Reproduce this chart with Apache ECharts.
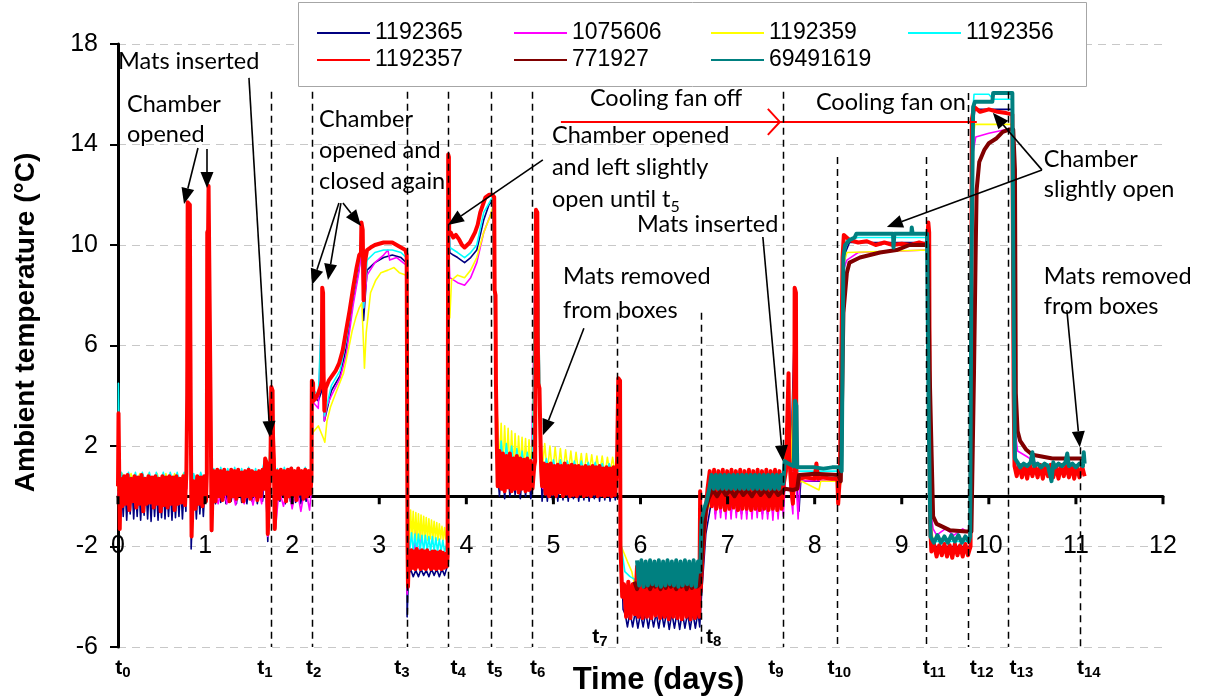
<!DOCTYPE html>
<html><head><meta charset="utf-8">
<script src="https://cdn.jsdelivr.net/npm/echarts@6/dist/echarts.min.js"></script>
<style>html,body{margin:0;padding:0;background:#fff}#c{width:1207px;height:698px}</style>
</head><body><div id="c"></div>
<script>
// ---------- DATA (time in days, temperature in °C) ----------
const seriesNames = ['1192365','1075606','1192359','1192356','1192357','771927','69491619'];

const d1192365 = [[0,0.2],[0.005,3.0],[0.02,-1.0],[0.04,0.5],[0.06,-0.8],[0.08,0.5],[0.10,-0.95],[0.12,0.4],[0.14,-0.7],[0.16,0.5],[0.18,-0.9],[0.20,0.45],[0.22,-0.8],[0.24,0.5],[0.26,-0.95],[0.28,0.4],[0.30,-0.75],[0.32,0.5],[0.34,-0.9],[0.36,0.45],[0.38,-1.0],[0.40,0.5],[0.42,-0.8],[0.44,0.4],[0.46,-0.95],[0.48,0.5],[0.50,-0.85],[0.52,0.45],[0.54,-0.9],[0.56,0.5],[0.58,-0.8],[0.60,0.4],[0.62,-0.95],[0.64,0.5],[0.66,-0.85],[0.68,0.45],[0.70,-0.8],[0.72,0.5],[0.74,-0.9],[0.76,0.4],[0.78,-0.6],[0.80,11.0],[0.825,11.0],[0.84,-2.1],[0.86,-0.3],[0.88,0.5],[0.90,-0.9],[0.92,0.5],[0.94,-0.7],[0.96,0.45],[0.98,-0.8],[1.00,0.4],[1.02,0.6],[1.04,11.8],[1.06,11.8],[1.075,-1.4],[1.09,0.3],[1.12,-0.3],[1.15,0.7],[1.18,-0.25],[1.21,0.7],[1.24,-0.3],[1.27,0.6],[1.30,-0.2],[1.33,0.7],[1.36,-0.3],[1.39,0.65],[1.42,-0.25],[1.45,0.7],[1.48,-0.3],[1.51,0.6],[1.54,-0.2],[1.57,0.7],[1.60,-0.3],[1.63,0.65],[1.66,-0.2],[1.69,1.2],[1.72,-1.8],[1.76,4.0],[1.78,2.0],[1.80,-1.0],[1.83,0.6],[1.86,-0.2],[1.89,0.7],[1.92,-0.3],[1.95,0.6],[1.98,-0.2],[2.01,0.7],[2.04,-0.25],[2.07,0.65],[2.10,-0.3],[2.13,0.6],[2.16,-0.2],[2.19,0.6],[2.22,0.5],
[2.226,4.0],[2.30,3.8],[2.34,4.2],[2.345,7.5],[2.355,7.4],[2.37,3.0],[2.45,4.2],[2.55,4.8],[2.62,5.9],[2.70,7.8],[2.77,9.1],[2.795,10.0],[2.81,9.8],[2.82,7.0],[2.86,9.0],[2.95,9.3],[3.05,9.5],[3.15,9.6],[3.25,9.5],[3.31,9.3],
[3.32,-4.8],[3.335,-3.2],[3.36,-2.9],[3.39,-3.2],[3.42,-2.95],[3.45,-3.2],[3.48,-2.9],[3.51,-3.15],[3.54,-2.95],[3.57,-3.2],[3.60,-2.9],[3.63,-3.15],[3.66,-2.9],[3.69,-3.2],[3.72,-2.9],[3.75,-3.15],[3.78,-2.8],
[3.795,12.0],[3.81,9.7],[3.85,9.6],[3.90,9.5],[3.98,9.3],[4.05,9.5],[4.12,9.8],[4.20,11.0],[4.26,11.6],[4.31,11.8],[4.34,4.0],[4.36,1.0],
[4.38,0.0],[4.41,1.5],[4.44,-0.1],[4.47,1.4],[4.50,0.0],[4.53,1.3],[4.56,0.05],[4.59,1.3],[4.62,-0.1],[4.65,1.2],[4.68,0.0],[4.71,1.2],[4.74,-0.1],[4.78,1.0],[4.80,10.5],[4.82,10.0],[4.85,2.0],[4.87,-0.2],[4.90,1.0],[4.93,-0.2],[4.96,1.0],[4.99,-0.15],[5.02,1.0],[5.05,-0.2],[5.08,0.9],[5.11,-0.15],[5.14,1.0],[5.17,-0.2],[5.20,0.9],[5.23,-0.1],[5.26,1.0],[5.29,-0.2],[5.32,0.9],[5.35,-0.15],[5.38,0.9],[5.41,-0.2],[5.44,0.9],[5.47,-0.1],[5.50,0.9],[5.53,-0.2],[5.56,0.85],[5.59,-0.15],[5.62,0.9],[5.65,-0.2],[5.68,0.85],[5.71,-0.15],[5.73,0.8],[5.75,4.0],[5.77,-1.0],[5.80,-4.5],
[5.825,-4.7],[5.85,-5.2],[5.88,-4.6],[5.91,-5.2],[5.94,-4.6],[5.97,-5.25],[6.00,-4.65],[6.03,-5.2],[6.06,-4.6],[6.09,-5.25],[6.12,-4.6],[6.15,-5.2],[6.18,-4.65],[6.21,-5.25],[6.24,-4.6],[6.27,-5.2],[6.30,-4.6],[6.33,-5.3],[6.36,-4.65],[6.39,-5.25],[6.42,-4.6],[6.45,-5.3],[6.48,-4.6],[6.51,-5.25],[6.54,-4.65],[6.57,-5.3],[6.60,-4.6],[6.63,-5.25],[6.66,-4.6],[6.68,-5.2],[6.70,-4.0],[6.75,-1.5],[6.80,-0.5],
[6.83,0.6],[6.86,-0.7],[6.89,0.6],[6.92,-0.65],[6.95,0.6],[6.98,-0.7],[7.01,0.6],[7.04,-0.7],[7.07,0.55],[7.10,-0.65],[7.13,0.6],[7.16,-0.7],[7.19,0.6],[7.22,-0.7],[7.25,0.55],[7.28,-0.7],[7.31,0.6],[7.34,-0.65],[7.37,0.6],[7.40,-0.7],[7.43,0.6],[7.46,-0.7],[7.49,0.55],[7.52,-0.7],[7.55,0.6],[7.58,-0.7],[7.61,0.6],[7.64,-0.4],[7.70,3.8],[7.72,0.6],[7.77,7.0],[7.79,0.6],[7.82,-0.6],[7.84,0.6],[8.27,0.6],[8.30,0.7],[8.33,9.5],[8.40,10.1],[9.30,10.1],[9.33,-1.5],[9.36,-2.0],[9.79,-2.0],[9.81,14.5],[9.84,15.4],[10.27,15.4],[10.29,3.0],[10.31,1.0],[11.10,1.0]];

const d1075606 = [[0,0.2],[0.02,-0.8],[0.05,0.4],[0.1,-0.3],[0.15,0.45],[0.2,-0.35],[0.25,0.4],[0.3,-0.3],[0.35,0.45],[0.4,-0.35],[0.45,0.4],[0.5,-0.3],[0.55,0.45],[0.6,-0.35],[0.65,0.4],[0.7,-0.3],[0.75,0.45],[0.79,0.3],[0.80,11.3],[0.825,11.3],[0.845,-1.3],[0.87,0.3],[0.92,-0.3],[0.97,0.4],[1.02,0.5],[1.04,12.0],[1.06,12.0],[1.075,-1.3],[1.1,0.4],[1.15,-0.3],[1.2,0.5],[1.25,-0.3],[1.3,0.45],[1.35,-0.35],[1.4,0.5],[1.45,-0.3],[1.5,0.45],[1.55,-0.35],[1.6,0.5],[1.65,-0.3],[1.69,1.3],[1.72,-1.6],[1.76,4.0],[1.78,2.0],[1.81,-1.25],[1.85,0.3],[1.9,-0.4],[1.95,0.5],[2.0,-0.5],[2.05,0.4],[2.1,-0.6],[2.15,0.4],[2.2,-0.55],[2.222,0.3],
[2.226,4.0],[2.25,3.7],[2.30,3.5],[2.345,7.8],[2.355,7.6],[2.37,3.0],[2.40,3.6],[2.45,4.0],[2.55,4.7],[2.62,5.6],[2.70,7.6],[2.77,9.0],[2.795,9.8],[2.82,7.5],[2.86,8.8],[2.95,9.3],[3.05,9.6],[3.10,9.8],[3.12,9.4],[3.2,9.5],[3.31,9.2],
[3.32,-3.9],[3.34,-2.5],[3.40,-2.5],[3.41,-1.35],[3.42,-2.4],[3.46,-2.5],[3.465,-1.35],[3.47,-2.5],[3.6,-2.5],[3.78,-2.5],
[3.795,10.0],[3.81,8.7],[3.9,8.5],[3.98,8.4],[4.05,8.7],[4.12,9.3],[4.2,10.5],[4.31,11.5],[4.34,3.5],[4.36,1.6],
[4.40,0.4],[4.45,1.7],[4.50,0.4],[4.55,1.6],[4.60,0.4],[4.65,1.5],[4.70,0.35],[4.75,1.4],[4.80,11.0],[4.82,10.5],[4.85,2.0],[4.88,0.3],[4.95,1.2],[5.0,0.3],[5.1,1.2],[5.2,0.3],[5.3,1.1],[5.4,0.3],[5.5,1.1],[5.6,0.3],[5.73,1.0],[5.75,4.0],[5.78,-2.2],[5.80,-4.0],
[5.85,-4.5],[5.9,-4.0],[6.0,-4.5],[6.1,-4.0],[6.2,-4.5],[6.3,-4.0],[6.4,-4.5],[6.5,-4.0],[6.6,-4.5],[6.68,-4.2],[6.72,-2.0],[6.77,-0.6],[6.80,0.0],
[6.83,0.5],[6.86,-0.9],[6.89,0.5],[6.92,-0.85],[6.95,0.5],[6.98,-0.9],[7.01,0.5],[7.04,-0.9],[7.07,0.5],[7.10,-0.85],[7.13,0.5],[7.16,-0.9],[7.19,0.5],[7.22,-0.9],[7.25,0.5],[7.28,-0.9],[7.31,0.5],[7.34,-0.85],[7.37,0.5],[7.40,-0.9],[7.43,0.5],[7.46,-0.9],[7.49,0.5],[7.52,-0.95],[7.55,0.5],[7.58,-0.9],[7.61,0.5],[7.64,-0.8],[7.66,0.5],[7.70,3.5],[7.72,0.3],[7.75,-0.7],[7.77,6.5],[7.79,0.4],[7.81,-0.9],[7.83,0.6],[8.27,0.65],[8.30,0.7],[8.33,9.0],[8.37,9.4],[8.5,9.7],[9.3,9.8],[9.33,-0.5],[9.36,-1.3],[9.4,-1.55],[9.5,-1.3],[9.6,-1.55],[9.7,-1.3],[9.79,-1.5],[9.81,13.5],[9.85,14.3],[10.0,14.45],[10.2,14.6],[10.27,14.6],[10.29,3.0],[10.33,1.8],[10.45,1.55],[10.6,1.2],[11.1,1.2]];

const d1192359 = [[0,0.4],[0.02,-0.5],[0.05,0.9],[0.1,0.3],[0.15,0.9],[0.2,0.3],[0.25,0.9],[0.3,0.3],[0.35,0.9],[0.4,0.3],[0.45,0.9],[0.5,0.3],[0.55,0.9],[0.6,0.3],[0.65,0.9],[0.7,0.3],[0.75,0.9],[0.79,0.5],[0.80,11.0],[0.825,11.0],[0.845,-1.0],[0.87,0.6],[0.95,0.3],[1.02,0.8],[1.04,11.8],[1.06,11.8],[1.075,-1.0],[1.1,0.9],[1.2,0.3],[1.3,0.9],[1.4,0.3],[1.5,0.9],[1.6,0.3],[1.69,1.2],[1.72,-1.2],[1.76,4.0],[1.80,-0.9],[1.85,0.9],[1.95,0.3],[2.05,0.9],[2.15,0.3],[2.22,0.6],
[2.226,2.5],[2.30,2.8],[2.36,2.3],[2.375,2.15],[2.40,3.0],[2.44,3.55],[2.50,4.1],[2.59,4.9],[2.65,5.9],[2.69,6.6],[2.73,7.1],[2.77,7.5],[2.80,7.7],[2.82,6.0],[2.83,5.1],[2.85,6.5],[2.90,8.1],[2.96,8.6],[3.02,8.9],[3.10,9.0],[3.17,9.1],[3.23,8.9],[3.31,8.8],
[3.32,-3.0],[3.33,-0.5],[3.345,-1.7],[3.36,-0.55],[3.375,-1.7],[3.39,-0.6],[3.405,-1.7],[3.42,-0.65],[3.435,-1.75],[3.45,-0.7],[3.465,-1.7],[3.48,-0.75],[3.495,-1.75],[3.51,-0.8],[3.525,-1.7],[3.54,-0.85],[3.555,-1.75],[3.57,-0.9],[3.585,-1.7],[3.60,-0.95],[3.615,-1.75],[3.63,-1.0],[3.645,-1.7],[3.66,-1.05],[3.675,-1.75],[3.69,-1.1],[3.705,-1.7],[3.72,-1.2],[3.735,-1.75],[3.75,-1.25],[3.765,-1.7],[3.78,-1.35],
[3.795,8.0],[3.81,7.1],[3.83,8.6],[3.9,8.8],[3.98,8.7],[4.05,9.0],[4.12,9.5],[4.20,10.5],[4.28,11.2],[4.31,11.6],[4.34,4.0],[4.36,3.0],
[4.38,1.2],[4.40,2.9],[4.42,1.1],[4.44,2.8],[4.46,1.2],[4.48,2.7],[4.50,1.0],[4.52,2.6],[4.54,1.1],[4.56,2.5],[4.58,1.0],[4.60,2.4],[4.62,1.1],[4.64,2.35],[4.66,1.0],[4.68,2.3],[4.70,1.0],[4.72,2.25],[4.74,1.0],[4.76,2.2],[4.80,10.8],[4.82,10.3],[4.85,2.2],
[4.87,1.0],[4.90,2.1],[4.93,0.9],[4.96,2.0],[4.99,0.9],[5.02,1.95],[5.05,0.9],[5.08,1.9],[5.11,0.85],[5.14,1.85],[5.17,0.9],[5.20,1.8],[5.23,0.85],[5.26,1.75],[5.29,0.9],[5.32,1.7],[5.35,0.85],[5.38,1.7],[5.41,0.9],[5.44,1.65],[5.47,0.85],[5.50,1.6],[5.53,0.9],[5.56,1.6],[5.59,0.85],[5.62,1.55],[5.65,0.9],[5.68,1.55],[5.71,0.9],[5.73,1.5],[5.75,3.5],[5.78,-2.0],[5.85,-2.6],[5.90,-3.0],[5.93,-3.5],
[6.0,-4.2],[6.05,-3.5],[6.1,-4.2],[6.15,-3.5],[6.2,-4.2],[6.25,-3.5],[6.3,-4.2],[6.35,-3.5],[6.4,-4.2],[6.45,-3.5],[6.5,-4.2],[6.55,-3.5],[6.6,-4.2],[6.68,-3.8],[6.72,-1.8],[6.77,-0.5],[6.80,-0.3],
[6.83,0.7],[6.88,-0.5],[6.93,0.7],[6.98,-0.5],[7.03,0.7],[7.08,-0.5],[7.13,0.7],[7.18,-0.5],[7.23,0.7],[7.28,-0.5],[7.33,0.7],[7.38,-0.5],[7.43,0.7],[7.48,-0.5],[7.53,0.7],[7.58,-0.5],[7.63,0.5],[7.70,3.0],[7.72,0.5],[7.77,5.5],[7.79,0.5],[7.85,0.6],[8.05,0.25],[8.07,0.6],[8.27,0.6],[8.30,0.5],[8.33,9.2],[8.37,9.7],[9.3,9.8],[9.33,-1.0],[9.36,-1.75],[9.40,-1.7],[9.79,-1.7],[9.81,14.0],[9.84,14.8],[10.27,14.8],[10.29,3.0],[10.32,1.3],[11.1,1.2]];

const d1192356 = [[0,0.5],[0.005,4.5],[0.015,2.0],[0.025,-0.6],[0.04,0.95],[0.08,0.4],[0.12,0.95],[0.16,0.45],[0.20,0.95],[0.24,0.4],[0.28,0.95],[0.32,0.45],[0.36,0.95],[0.40,0.4],[0.44,0.95],[0.48,0.45],[0.52,0.95],[0.56,0.4],[0.60,0.95],[0.64,0.45],[0.68,0.95],[0.72,0.4],[0.76,0.95],[0.79,0.6],[0.80,11.5],[0.825,11.5],[0.845,-1.0],[0.87,0.9],[0.91,0.4],[0.95,0.95],[0.99,0.5],[1.02,1.0],[1.04,12.2],[1.06,12.2],[1.075,-1.0],[1.10,1.1],[1.14,0.5],[1.18,1.15],[1.22,0.5],[1.26,1.1],[1.30,0.5],[1.34,1.15],[1.38,0.5],[1.42,1.1],[1.46,0.5],[1.50,1.15],[1.54,0.5],[1.58,1.1],[1.62,0.5],[1.66,1.1],[1.69,1.5],[1.72,-1.2],[1.76,4.2],[1.80,-1.0],[1.83,1.1],[1.87,0.5],[1.91,1.15],[1.95,0.5],[1.99,1.15],[2.03,0.5],[2.07,1.1],[2.11,0.5],[2.15,1.15],[2.19,0.5],[2.222,1.0],
[2.226,4.3],[2.30,4.0],[2.345,8.0],[2.355,7.8],[2.37,3.2],[2.45,4.4],[2.55,5.0],[2.62,6.2],[2.70,8.0],[2.77,9.4],[2.795,10.5],[2.82,7.5],[2.86,9.4],[2.95,9.7],[3.05,9.8],[3.15,9.8],[3.25,9.7],[3.31,9.5],
[3.32,-3.5],[3.33,-1.5],[3.35,-2.2],[3.37,-1.45],[3.39,-2.2],[3.41,-1.5],[3.43,-2.2],[3.45,-1.5],[3.47,-2.2],[3.49,-1.55],[3.51,-2.2],[3.53,-1.55],[3.55,-2.2],[3.57,-1.6],[3.59,-2.2],[3.61,-1.6],[3.63,-2.2],[3.65,-1.65],[3.67,-2.2],[3.69,-1.7],[3.71,-2.2],[3.73,-1.75],[3.75,-2.2],[3.78,-1.85],
[3.795,11.0],[3.81,9.9],[3.9,9.7],[3.98,9.5],[4.05,9.7],[4.12,10.0],[4.20,11.3],[4.30,11.9],[4.34,4.2],[4.36,2.2],
[4.38,1.0],[4.40,2.2],[4.43,1.0],[4.46,2.1],[4.49,1.0],[4.52,2.0],[4.55,0.9],[4.58,1.9],[4.61,1.0],[4.64,1.8],[4.67,0.9],[4.70,1.75],[4.73,1.0],[4.76,1.7],[4.80,11.2],[4.82,10.8],[4.85,2.0],[4.88,0.8],[4.92,1.5],[4.96,0.8],[5.0,1.45],[5.04,0.8],[5.08,1.45],[5.12,0.8],[5.16,1.4],[5.20,0.8],[5.24,1.4],[5.28,0.8],[5.32,1.4],[5.36,0.8],[5.40,1.35],[5.44,0.8],[5.48,1.35],[5.52,0.8],[5.56,1.3],[5.60,0.8],[5.64,1.3],[5.68,0.8],[5.72,1.3],[5.75,4.0],[5.78,-2.0],[5.82,-3.0],[5.88,-3.2],[5.93,-3.3],[6.0,-3.8],[6.1,-3.3],[6.2,-3.8],[6.3,-3.3],[6.4,-3.8],[6.5,-3.3],[6.6,-3.8],[6.68,-3.5],[6.72,-1.5],[6.77,-0.3],[6.80,0.2],
[6.85,0.8],[6.9,0.0],[6.95,0.8],[7.0,0.0],[7.05,0.8],[7.1,0.0],[7.15,0.8],[7.2,0.0],[7.25,0.8],[7.3,0.0],[7.35,0.8],[7.4,0.0],[7.45,0.8],[7.5,0.0],[7.55,0.8],[7.6,0.0],[7.64,0.8],[7.66,1.3],[7.8,1.0],[8.27,1.0],[8.30,1.0],[8.33,9.8],[8.37,10.2],[8.5,10.3],[9.3,10.3],[9.33,-1.2],[9.36,-1.8],[9.79,-1.8],[9.81,15.0],[9.83,16.0],[10.0,16.0],[10.05,15.8],[10.27,15.8],[10.29,3.0],[10.32,1.3],[11.1,1.25]];

const d1192357 = [[0.00,0.4],[0.006,3.3],[0.012,1.5],[0.02,-1.3],[0.03,0.7],[0.05,-0.4],[0.07,0.8],[0.09,-0.3],[0.11,0.85],[0.13,-0.55],[0.15,0.7],[0.17,-0.2],[0.19,0.8],[0.21,-0.45],[0.23,0.75],[0.25,-0.3],[0.27,0.85],[0.29,-0.6],[0.31,0.7],[0.33,-0.3],[0.35,0.8],[0.37,-0.25],[0.39,0.75],[0.41,-0.45],[0.43,0.8],[0.45,-0.3],[0.47,0.7],[0.49,-0.6],[0.51,0.8],[0.53,-0.35],[0.55,0.75],[0.57,-0.45],[0.59,0.8],[0.61,-0.3],[0.63,0.75],[0.65,-0.55],[0.67,0.8],[0.69,-0.3],[0.71,0.7],[0.73,-0.25],[0.75,0.8],[0.77,-0.35],[0.785,0.9],
[0.795,4.0],[0.80,11.7],[0.825,11.6],[0.83,7.0],[0.835,3.5],[0.845,-1.6],[0.855,-0.3],[0.87,0.6],[0.89,-0.5],[0.91,0.8],[0.93,-0.3],[0.95,0.75],[0.97,-0.4],[0.99,0.8],[1.01,-0.2],[1.02,0.9],
[1.025,10.5],[1.035,10.6],[1.04,12.35],[1.06,12.3],[1.065,3.0],[1.075,-1.35],[1.085,0.2],[1.10,1.0],[1.12,-0.2],[1.14,1.05],[1.16,0.0],[1.18,1.0],[1.20,-0.15],[1.22,1.05],[1.24,0.1],[1.26,0.95],[1.28,-0.2],[1.30,1.05],[1.32,0.0],[1.34,1.0],[1.36,-0.1],[1.38,1.05],[1.40,0.05],[1.42,0.95],[1.44,-0.2],[1.46,1.0],[1.48,0.0],[1.50,1.05],[1.52,-0.1],[1.54,1.0],[1.56,0.05],[1.58,0.95],[1.60,-0.15],[1.62,1.0],[1.64,0.0],[1.66,1.05],[1.68,0.3],[1.69,1.5],[1.71,1.3],[1.72,-1.5],[1.735,0.2],[1.75,1.0],[1.76,4.35],[1.775,4.2],[1.78,2.4],[1.79,1.5],[1.80,-1.3],[1.815,0.4],[1.83,1.0],[1.85,-0.1],[1.87,1.05],[1.89,0.1],[1.91,1.0],[1.93,-0.2],[1.95,1.05],[1.97,0.0],[1.99,1.1],[2.01,0.05],[2.03,1.0],[2.05,-0.15],[2.07,1.1],[2.09,0.1],[2.11,1.0],[2.13,-0.1],[2.15,1.05],[2.17,0.0],[2.19,1.0],[2.21,0.1],[2.222,0.8],
[2.226,4.6],[2.24,4.5],[2.245,3.8],[2.27,3.9],[2.30,4.1],[2.33,4.4],[2.34,4.6],[2.345,8.3],[2.355,8.1],[2.36,5.0],[2.37,3.4],[2.385,4.3],[2.42,4.6],[2.46,4.8],[2.50,5.0],[2.54,5.3],[2.58,5.8],[2.62,6.6],[2.66,7.4],[2.70,8.3],[2.74,9.1],[2.77,9.6],[2.79,9.7],[2.795,10.9],[2.81,10.6],[2.82,7.8],[2.835,9.3],[2.86,9.8],[2.90,9.9],[2.95,10.0],[3.00,10.05],[3.05,10.1],[3.10,10.1],[3.15,10.1],[3.20,10.0],[3.25,9.9],[3.30,9.8],[3.315,9.6],
[3.325,-2.0],[3.33,-3.6],[3.34,-2.3],[3.355,-2.9],[3.37,-2.15],[3.385,-2.85],[3.40,-2.2],[3.415,-2.9],[3.43,-2.1],[3.445,-2.8],[3.46,-2.2],[3.475,-2.9],[3.49,-2.15],[3.505,-2.85],[3.52,-2.2],[3.535,-2.9],[3.55,-2.15],[3.565,-2.8],[3.58,-2.25],[3.595,-2.9],[3.61,-2.2],[3.625,-2.85],[3.64,-2.2],[3.655,-2.9],[3.67,-2.25],[3.685,-2.85],[3.70,-2.2],[3.715,-2.9],[3.73,-2.25],[3.745,-2.85],[3.76,-2.3],[3.775,-2.8],[3.785,-2.4],
[3.792,13.6],[3.80,13.5],[3.803,10.4],[3.82,10.5],[3.85,10.3],[3.88,10.4],[3.92,10.2],[3.95,10.0],[3.98,9.9],[4.01,10.0],[4.04,10.1],[4.07,10.3],[4.10,10.5],[4.13,10.8],[4.16,11.3],[4.19,11.6],[4.22,11.9],[4.26,12.0],[4.30,12.0],[4.32,11.9],[4.325,8.2],[4.335,8.0],[4.34,4.5],[4.35,2.1],
[4.36,0.4],[4.38,1.8],[4.40,0.3],[4.42,1.7],[4.44,0.2],[4.46,1.6],[4.48,0.35],[4.50,1.7],[4.52,0.2],[4.54,1.5],[4.56,0.3],[4.58,1.6],[4.60,0.15],[4.62,1.5],[4.64,0.3],[4.66,1.45],[4.68,0.2],[4.70,1.5],[4.72,0.25],[4.74,1.4],[4.76,0.3],[4.78,1.2],[4.79,1.4],
[4.80,11.4],[4.815,11.3],[4.82,6.5],[4.825,4.5],[4.84,4.3],[4.85,2.5],[4.86,1.0],[4.87,0.4],
[4.89,1.3],[4.91,0.1],[4.93,1.25],[4.95,0.0],[4.97,1.3],[4.99,0.1],[5.01,1.2],[5.03,0.0],[5.05,1.25],[5.07,0.15],[5.09,1.2],[5.11,0.0],[5.13,1.3],[5.15,0.1],[5.17,1.2],[5.19,0.0],[5.21,1.25],[5.23,0.05],[5.25,1.2],[5.27,0.0],[5.29,1.2],[5.31,0.1],[5.33,1.15],[5.35,0.0],[5.37,1.2],[5.39,0.05],[5.41,1.15],[5.43,0.0],[5.45,1.2],[5.47,0.1],[5.49,1.15],[5.51,0.0],[5.53,1.2],[5.55,0.05],[5.57,1.1],[5.59,0.0],[5.61,1.15],[5.63,0.05],[5.65,1.1],[5.67,0.0],[5.69,1.15],[5.71,0.05],[5.73,1.2],
[5.745,4.7],[5.765,4.6],[5.77,-2.0],[5.79,-4.0],
[5.81,-3.5],[5.835,-4.8],[5.86,-3.4],[5.885,-4.85],[5.91,-3.5],[5.935,-4.7],[5.96,-2.8],[5.975,-4.8],[6.0,-3.5],[6.025,-4.85],[6.05,-3.45],[6.075,-4.8],[6.10,-3.5],[6.125,-4.85],[6.15,-3.45],[6.175,-4.75],[6.20,-3.5],[6.225,-4.85],[6.25,-3.45],[6.275,-4.8],[6.30,-3.5],[6.325,-4.9],[6.35,-3.45],[6.375,-4.8],[6.40,-3.5],[6.425,-4.85],[6.45,-3.5],[6.475,-4.9],[6.50,-3.45],[6.525,-4.8],[6.55,-3.5],[6.575,-4.9],[6.60,-3.5],[6.625,-4.85],[6.65,-3.45],[6.675,-4.8],[6.685,0.2],[6.69,-3.8],
[6.71,-2.5],[6.73,-1.5],[6.75,-0.5],[6.77,0.3],
[6.795,1.0],[6.82,-0.4],[6.845,1.05],[6.87,-0.5],[6.895,1.0],[6.92,-0.45],[6.945,1.05],[6.97,-0.55],[6.995,1.0],[7.02,-0.5],[7.045,1.05],[7.07,-0.45],[7.095,1.0],[7.12,-0.55],[7.145,1.05],[7.17,-0.5],[7.195,1.0],[7.22,-0.5],[7.245,1.05],[7.27,-0.55],[7.295,1.0],[7.32,-0.5],[7.345,1.05],[7.37,-0.55],[7.395,1.0],[7.42,-0.5],[7.445,1.05],[7.47,-0.55],[7.495,1.0],[7.52,-0.5],[7.545,1.05],[7.57,-0.55],[7.595,1.0],[7.62,-0.5],[7.645,0.5],
[7.67,1.0],[7.69,1.0],[7.70,4.9],[7.71,1.5],[7.73,0.4],[7.75,-0.3],[7.765,1.0],[7.77,8.3],[7.785,8.1],[7.79,1.0],[7.80,0.3],[7.82,0.7],[7.9,0.75],[8.0,0.7],[8.02,1.3],[8.04,0.7],[8.1,0.75],[8.2,0.7],[8.26,0.7],[8.27,-0.3],[8.29,0.8],[8.32,9.5],[8.335,10.4],
[8.40,10.2],[8.5,10.1],[8.6,10.15],[8.7,10.0],[8.8,10.1],[8.9,10.0],[9.0,10.05],[9.1,10.0],[9.2,10.1],[9.29,10.0],[9.305,10.9],[9.315,10.5],[9.325,-1.0],[9.34,-2.2],
[9.37,-1.9],[9.40,-2.4],[9.43,-1.95],[9.46,-2.35],[9.49,-1.9],[9.52,-2.4],[9.55,-1.95],[9.58,-2.45],[9.61,-1.9],[9.64,-2.35],[9.67,-1.95],[9.70,-2.4],[9.73,-1.9],[9.76,-2.35],[9.79,-2.0],
[9.805,15.0],[9.83,15.5],[9.9,15.3],[10.0,15.4],[10.1,15.3],[10.2,15.25],[10.27,15.2],[10.285,4.0],[10.295,1.2],
[10.32,0.8],[10.35,1.25],[10.38,0.75],[10.41,1.2],[10.44,0.7],[10.47,1.25],[10.50,0.8],[10.53,1.2],[10.56,0.75],[10.59,1.25],[10.62,0.7],[10.65,1.2],[10.68,0.8],[10.71,1.25],[10.74,0.75],[10.77,1.2],[10.80,0.7],[10.83,1.25],[10.86,0.8],[10.89,1.2],[10.92,0.75],[10.95,1.25],[10.98,0.7],[11.01,1.2],[11.04,0.75],[11.07,1.2],[11.10,0.8]];

const d771927 = [[5.93,-3.4],[5.96,-3.7],[5.99,-3.4],[6.02,-3.3],[6.05,-3.6],[6.08,-3.4],[6.11,-3.7],[6.14,-3.45],[6.17,-3.6],[6.20,-3.4],[6.23,-3.7],[6.26,-3.4],[6.29,-3.65],[6.32,-3.35],[6.35,-3.6],[6.38,-3.4],[6.41,-3.7],[6.44,-3.45],[6.47,-3.6],[6.50,-3.3],[6.53,-3.7],[6.56,-3.4],[6.59,-3.65],[6.62,-3.45],[6.65,-3.6],[6.68,-3.5],[6.70,-2.6],[6.72,-1.5],[6.75,-0.6],[6.78,-0.1],
[6.83,0.25],[6.88,0.0],[6.93,0.3],[6.98,0.05],[7.03,0.25],[7.08,0.0],[7.13,0.3],[7.18,0.05],[7.23,0.25],[7.28,0.0],[7.33,0.3],[7.38,0.05],[7.43,0.25],[7.48,0.0],[7.53,0.3],[7.58,0.05],[7.63,0.2],[7.66,0.3],[7.75,0.25],[7.8,0.3],[7.82,0.85],[8.0,0.9],[8.27,0.85],[8.30,0.6],[8.33,7.3],[8.37,8.9],[8.40,9.3],[8.52,9.5],[8.75,9.7],[8.94,9.8],[9.09,10.0],[9.30,10.0],[9.32,5.0],[9.36,-0.8],[9.40,-1.1],[9.55,-1.35],[9.74,-1.4],[9.80,-1.4],[9.83,5],[9.85,10],[9.86,12.2],[9.89,13.3],[9.95,13.8],[10.0,14.05],[10.09,14.25],[10.16,14.5],[10.24,14.6],[10.28,14.6],[10.30,13],[10.31,4.1],[10.33,2.6],[10.36,2.2],[10.43,1.85],[10.5,1.65],[10.73,1.5],[11.10,1.5]];

const d69491619 = [[5.96,-2.55],[5.985,-3.55],[6.01,-2.55],[6.035,-3.6],[6.06,-2.6],[6.085,-3.55],[6.11,-2.55],[6.135,-3.5],[6.16,-2.6],[6.185,-3.55],[6.21,-2.55],[6.235,-3.6],[6.26,-2.6],[6.285,-3.55],[6.31,-2.55],[6.335,-3.5],[6.36,-2.6],[6.385,-3.55],[6.41,-2.55],[6.435,-3.6],[6.46,-2.6],[6.485,-3.55],[6.51,-2.55],[6.535,-3.5],[6.56,-2.6],[6.585,-3.55],[6.61,-2.55],[6.635,-3.6],[6.66,-2.6],[6.685,-3.0],[6.70,-1.0],[6.73,-0.5],[6.76,-0.2],[6.79,0.3],
[6.815,0.85],[6.84,0.3],[6.865,0.85],[6.89,0.3],[6.915,0.85],[6.94,0.3],[6.965,0.85],[6.99,0.3],[7.015,0.85],[7.04,0.3],[7.065,0.85],[7.09,0.3],[7.115,0.85],[7.14,0.3],[7.165,0.85],[7.19,0.3],[7.215,0.85],[7.24,0.3],[7.265,0.85],[7.29,0.3],[7.315,0.85],[7.34,0.3],[7.365,0.85],[7.39,0.3],[7.415,0.85],[7.44,0.3],[7.465,0.85],[7.49,0.3],[7.515,0.85],[7.54,0.3],[7.565,0.85],[7.59,0.3],[7.615,0.85],[7.64,0.5],
[7.655,1.4],[7.70,1.3],[7.76,1.2],[7.775,3.8],[7.79,3.6],[7.80,1.15],[8.0,1.15],[8.1,1.1],[8.2,1.15],[8.29,1.15],[8.31,1.0],[8.33,9.5],[8.35,10.0],[8.40,10.2],[8.46,10.3],[8.48,10.45],[8.9,10.45],[8.905,9.9],[8.915,10.45],[9.11,10.45],[9.115,10.7],[9.125,10.45],[9.29,10.45],[9.31,3.0],[9.33,-1.6],
[9.37,-1.85],[9.41,-1.55],[9.45,-1.85],[9.49,-1.6],[9.53,-1.85],[9.57,-1.55],[9.61,-1.8],[9.65,-1.55],[9.69,-1.85],[9.73,-1.6],[9.77,-1.8],[9.785,-1.6],[9.80,9.0],[9.82,15.5],[9.84,15.7],[10.04,15.7],[10.05,16.05],[10.27,16.05],[10.28,10.0],[10.29,5.0],[10.30,1.5],
[10.33,1.35],[10.36,1.15],[10.40,1.3],[10.44,1.2],[10.48,1.35],[10.5,1.75],[10.52,1.2],[10.56,1.3],[10.6,1.15],[10.64,1.3],[10.68,1.2],[10.72,0.6],[10.74,1.35],[10.76,1.15],[10.80,1.3],[10.84,1.2],[10.88,1.35],[10.90,1.7],[10.92,1.2],[10.96,1.3],[11.0,1.15],[11.04,1.3],[11.08,1.2],[11.09,1.75],[11.10,1.3]];

// Event times t0..t14 (days) and the top of each dashed marker line (°C)
const eventTimes = [0, 1.757, 2.224, 3.318, 3.792, 4.28, 4.75, 5.73, 6.69, 7.635, 8.26, 9.28, 9.757, 10.225, 11.045];
const eventTops  = [null, 16.1, 16.1, 16.1, 16.1, 16.1, 16.1, 7.3, 7.3, 16.1, 13.5, 13.5, 16.05, 16.1, 1.95];

// axis ranges
const xMin = 0, xMax = 12, xStep = 1;
const yMin = -6, yMax = 18, yStep = 4;

// annotation texts (anchored at data coords: [day, °C] of first-line left/middle)
const notes = [
  {text:'Mats inserted', at:[0.0, 17.29], lh:30},
  {text:'Chamber\nopened', at:[0.103, 15.58], lh:30},
  {text:'Chamber\nopened and\nclosed again', at:[2.308, 14.98], lh:31},
  {text:'Chamber opened\nand left slightly\nopen until t{s|5}', at:[4.983, 14.38], lh:32},
  {text:'Mats removed\nfrom boxes', at:[5.109, 8.73], lh:34},
  {text:'Cooling fan off', at:[5.419, 15.82], lh:30},
  {text:'Cooling fan on', at:[8.014, 15.66], lh:30},
  {text:'Mats inserted', at:[5.959, 10.80], lh:30},
  {text:'Chamber\nslightly open', at:[10.631, 13.39], lh:30},
  {text:'Mats removed\nfrom boxes', at:[10.631, 8.73], lh:30}
];
// arrows [from, to] in data coords
const arrows = [
  [[1.504,16.65],[1.745,2.35]],
  [[0.918,13.86],[0.758,11.63]],
  [[1.022,13.82],[1.022,12.27]],
  [[2.537,11.67],[2.227,8.41]],
  [[2.560,11.67],[2.411,8.61]],
  [[2.583,11.67],[2.790,10.76]],
  [[4.879,13.39],[3.789,10.80]],
  [[5.350,6.69],[4.879,2.43]],
  [[7.405,10.32],[7.635,1.39]],
  [[10.61,12.99],[10.046,15.26]],
  [[10.61,12.99],[8.829,10.72]],
  [[10.896,7.41],[11.045,1.95]]
];
const fanLine = {from:[5.086,14.9], head:[7.60,14.9], to:[9.862,14.9]};

// ---------- STYLE ----------
const colors = ['#000080','#ff00ff','#ffff00','#00ffff','#ff0000','#800000','#008080'];
const widths = [1.6,1.6,1.6,1.6,4,4,4];
const allData = [d1192365,d1075606,d1192359,d1192356,d1192357,d771927,d69491619];
const tLabelDx = [5,-6,2,-5,10,4,6,-17,13,-7,2,8,14,13,9];
const tLabelLow = [668,668,668,668,668,668,668,637,637,668,668,668,668,668,668];

const chart = echarts.init(document.getElementById('c'));
const legendText = {fontFamily:"'Liberation Sans',Arial,sans-serif", fontSize:23, color:'#000', width:90, lineHeight:27};
const legendCommon = {left:316, padding:0, itemGap:48, itemWidth:53, itemHeight:14, textStyle:legendText,
  itemStyle:{opacity:0}, selectedMode:false, z:5};
const opt = {
  animation:false,
  backgroundColor:'#fff',
  grid:{left:118, right:44, top:44, bottom:51, containLabel:false, outerBoundsMode:'none'},
  legend:[
    Object.assign({top:19.5, data:seriesNames.slice(0,4)}, legendCommon),
    Object.assign({top:46.5, data:seriesNames.slice(4)}, legendCommon)
  ],
  xAxis:{type:'value', min:xMin, max:xMax, interval:xStep,
    name:'Time (days)', nameLocation:'middle', nameGap:18,
    nameTextStyle:{fontFamily:'Liberation Sans', fontWeight:'bold', fontSize:31, color:'#000', padding:[0,0,0,36]},
    axisLine:{onZero:true, lineStyle:{color:'#000', width:3}},
    axisTick:{show:false},
    axisLabel:{margin:-113, fontFamily:'Liberation Sans', fontSize:25, color:'#000'},
    splitLine:{show:false}},
  yAxis:{type:'value', min:yMin, max:yMax, interval:yStep,
    name:'Ambient temperature (°C)', nameLocation:'middle', nameGap:78,
    nameTextStyle:{fontFamily:'Liberation Sans', fontWeight:'bold', fontSize:28, color:'#000', padding:[0,0,0,46]},
    axisLine:{show:true, onZero:false, lineStyle:{color:'#000', width:3}},
    axisTick:{show:true, length:8, lineStyle:{color:'#000', width:2}},
    axisLabel:{margin:20, fontFamily:'Liberation Sans', fontSize:25, color:'#000'},
    splitLine:{show:true, lineStyle:{color:'#c8c8c8', type:[8,6], width:1}}},
  series: seriesNames.map((n,i)=>({
    name:n, type:'line', data:allData[i], showSymbol:false, symbol:'none',
    lineStyle:{color:colors[i], width:widths[i], join:'round'}, itemStyle:{color:colors[i]},
    silent:true, z:2
  }))
};
chart.setOption(opt);

function P(p){ return chart.convertToPixel({gridIndex:0}, p); }
const g = [];
// legend frame
g.push({type:'rect', z:3, shape:{x:298.5, y:2.5, width:788, height:84}, style:{fill:'#fff', stroke:'#a6a6a6', lineWidth:1}});
// tick marks below the zero axis line at each whole day
for (let d = xMin; d <= xMax; d += xStep) {
  const p = P([d, 0]);
  g.push({type:'line', z:4, shape:{x1:p[0], y1:p[1], x2:p[0], y2:p[1]+8}, style:{stroke:'#000', lineWidth:3}});
}
// dashed event lines
eventTimes.forEach((t,i)=>{
  if (eventTops[i] === null) return;
  const a = P([t, eventTops[i]]), b = P([t, yMin]);
  g.push({type:'line', z:10, shape:{x1:Math.round(a[0])+0.5, y1:a[1], x2:Math.round(b[0])+0.5, y2:b[1]}, style:{stroke:'#000', lineWidth:1.5, lineDash:[7,5]}});
});
// event labels t0..t14
const tf = "'Liberation Sans',Arial,sans-serif";
eventTimes.forEach((t,i)=>{
  const px = P([t, 0])[0] + tLabelDx[i];
  g.push({type:'text', z:10, x:px, y:tLabelLow[i], style:{text:'{a|t}{b|'+i+'}', align:'center', verticalAlign:'middle',
    rich:{a:{fontFamily:tf, fontWeight:'bold', fontSize:21, lineHeight:24, fill:'#000'},
          b:{fontFamily:tf, fontWeight:'bold', fontSize:15, lineHeight:10, verticalAlign:'bottom', fill:'#000'}}}});
});
// arrows
arrows.forEach(([f,t])=>{
  const a = P(f), b = P(t);
  const dx = b[0]-a[0], dy = b[1]-a[1], L = Math.hypot(dx,dy), ux = dx/L, uy = dy/L;
  const hl = 16, hw = 6.5;
  const bx = b[0]-ux*hl, by = b[1]-uy*hl;
  g.push({type:'line', z:10, shape:{x1:a[0], y1:a[1], x2:bx, y2:by}, style:{stroke:'#000', lineWidth:1.6}});
  g.push({type:'polygon', z:10, shape:{points:[[b[0],b[1]],[bx-uy*hw, by+ux*hw],[bx+uy*hw, by-ux*hw]]}, style:{fill:'#000'}});
});
// cooling fan line with open arrow head
{
  const a = P(fanLine.from), h = P(fanLine.head), e = P(fanLine.to);
  g.push({type:'line', z:9, shape:{x1:a[0], y1:a[1], x2:e[0], y2:e[1]}, style:{stroke:'#ff0000', lineWidth:2}});
  g.push({type:'polyline', z:9, shape:{points:[[h[0]-12,h[1]-13],[h[0],h[1]],[h[0]-12,h[1]+13]]}, style:{stroke:'#ff0000', lineWidth:2, fill:null}});
}
// text notes
notes.forEach(n=>{
  const p = P(n.at);
  g.push({type:'text', z:11, x:p[0], y:p[1]-n.lh/2, style:{text:n.text, fontFamily:"Lato,'Open Sans',sans-serif", fontSize:23.5, fill:'#000',
    align:'left', verticalAlign:'top', lineHeight:n.lh,
    rich:{s:{fontFamily:"Lato,sans-serif", fontSize:16, lineHeight:18, verticalAlign:'bottom', fill:'#000'}}}});
});
chart.setOption({graphic:g});
</script></body></html>
